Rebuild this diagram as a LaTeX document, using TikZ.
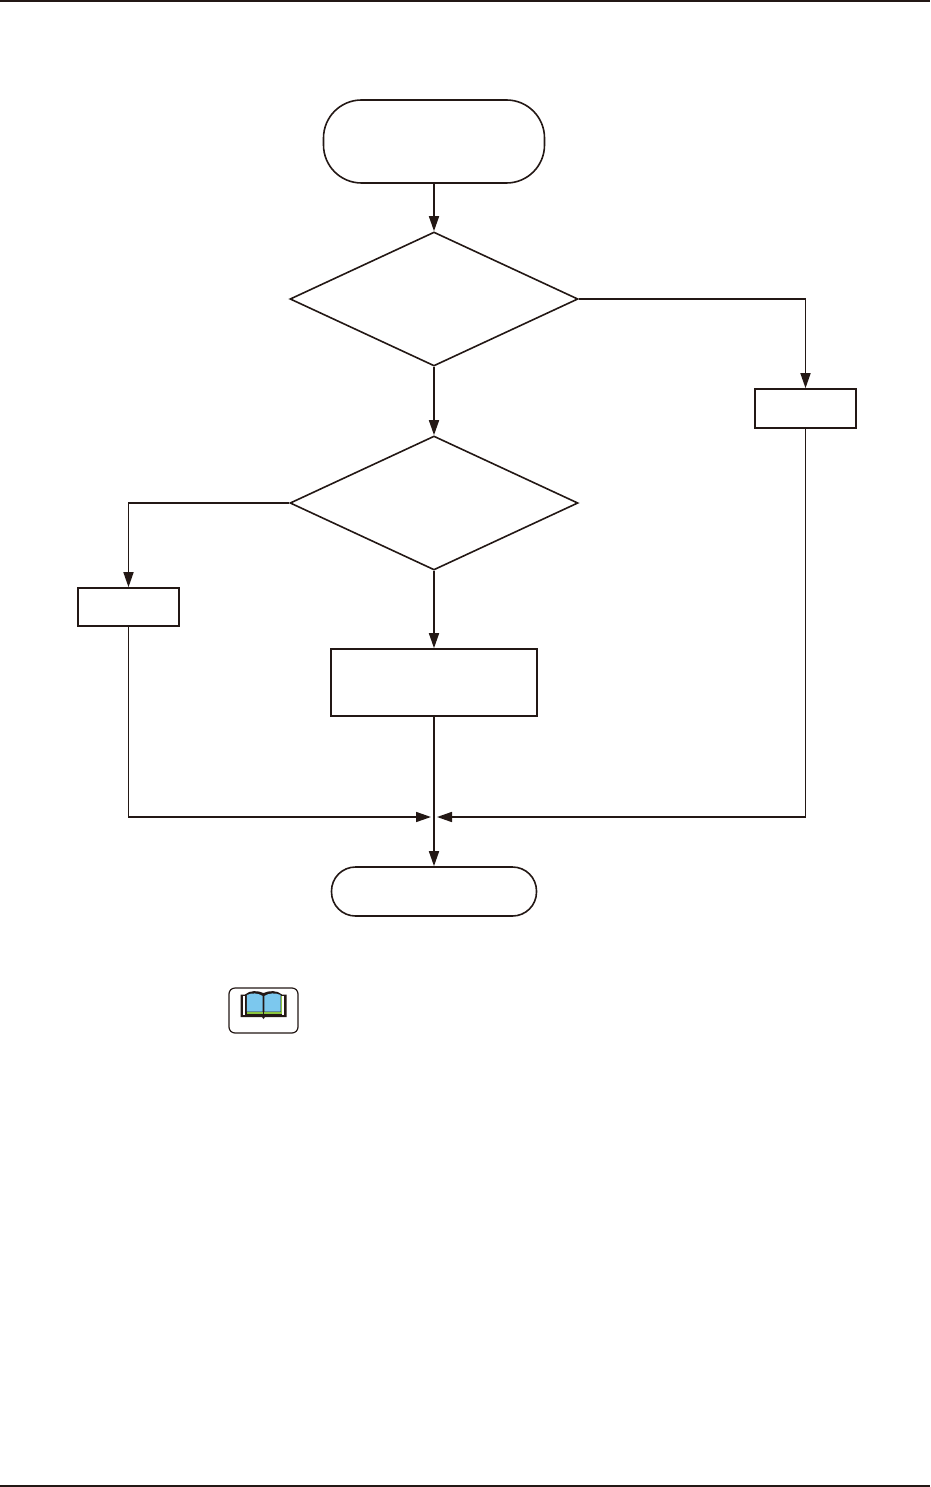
\documentclass[tikz,border=0pt]{standalone}
\usetikzlibrary{arrows.meta,positioning,shapes.geometric}
\definecolor{inkline}{HTML}{231815}
\definecolor{pageblue}{HTML}{7CC8EE}
\definecolor{pagegreen}{HTML}{8CC63F}
\tikzset{
  termbox/.style={draw=inkline, line width=1.6pt, fill=white, rounded corners=#1},
  stepbox/.style={draw=inkline, line width=1.6pt, fill=white},
  testbox/.style={draw=inkline, line width=1.6pt, fill=white, diamond, aspect=2.149,
                  inner sep=0pt, minimum width=288pt, minimum height=134pt},
  arr/.style={-{Stealth[length=15pt, width=10pt, inset=0pt]}, line width=1.6pt, color=inkline},
  rulebar/.style={fill=inkline, draw=none}}

\begin{document}
\begin{tikzpicture}[x=1pt, y=-1pt]
    \useasboundingbox (0, 0) rectangle (930, 1487);
    \fill[rulebar] (0, 0) rectangle (930, 2);
    \fill[rulebar] (0, 1484.5) rectangle (930, 1486.5);
    \node[termbox=38pt, minimum width=221pt, minimum height=83pt, inner sep=0pt] (start) at (434, 141.5) {};
    \node[testbox] (qone) at (434, 299) {};
    \node[testbox] (qtwo) at (434, 503) {};
    \node[stepbox, minimum width=101pt, minimum height=39pt, inner sep=0pt] (right) at (805.5, 408.5) {};
    \node[stepbox, minimum width=101pt, minimum height=38pt, inner sep=0pt] (left) at (128.5, 607) {};
    \node[stepbox, minimum width=206pt, minimum height=67pt, inner sep=0pt] (work) at (434, 682.5) {};
    \node[termbox=24pt, minimum width=205pt, minimum height=49pt, inner sep=0pt] (finish) at (434, 891.5) {};
    \coordinate (join) at (434, 817);
    \draw[arr] (start) -- (qone);
    \draw[arr] (qone) -- (qtwo);
    \draw[arr] (qtwo) -- (work);
    \draw[arr] (qone.east) -| (right.north);
    \draw[arr] (qtwo.west) -| (left.north);
    \draw[arr] (work) -- (finish);
    \draw[arr, shorten >=3pt] (left.south) |- (join);
    \draw[arr, shorten >=3pt] (right.south) |- (join);
    % book sign
    \node[termbox=6pt, line width=1.2pt, minimum width=69pt, minimum height=45pt, inner sep=0pt] (booksign) at (263.5, 1010.5) {};
    \fill[inkline] (240.5, 994.5) -- (245, 994.5) .. controls (250, 990) and (258, 990.5) .. (263.5, 993)
      .. controls (269, 990.5) and (277, 990) .. (282, 994.5) -- (286.5, 994.5) -- (286.5, 1017) -- (265, 1017) -- (263.5, 1019)
      -- (262, 1017) -- (240.5, 1017) -- cycle;
    \fill[white] (243.2, 996) rectangle (244.6, 1015);
    \fill[white] (282.4, 996) rectangle (283.8, 1015);
    \fill[pagegreen] (246.8, 1011.7) rectangle (262.7, 1014.3);
    \fill[pagegreen] (264.3, 1011.7) rectangle (281.5, 1014.3);
    \fill[pagegreen] (280.7, 996) rectangle (281.5, 1014.3);
    \fill[pageblue] (246.8, 995) .. controls (252, 992.5) and (258, 993) .. (262.7, 996) -- (262.7, 1011.7) -- (246.8, 1011.7) -- cycle;
    \fill[pageblue] (264.3, 996) .. controls (269, 993) and (275, 992.5) .. (280.7, 995) -- (280.7, 1011.7) -- (264.3, 1011.7) -- cycle;
  \end{tikzpicture}
\end{document}
